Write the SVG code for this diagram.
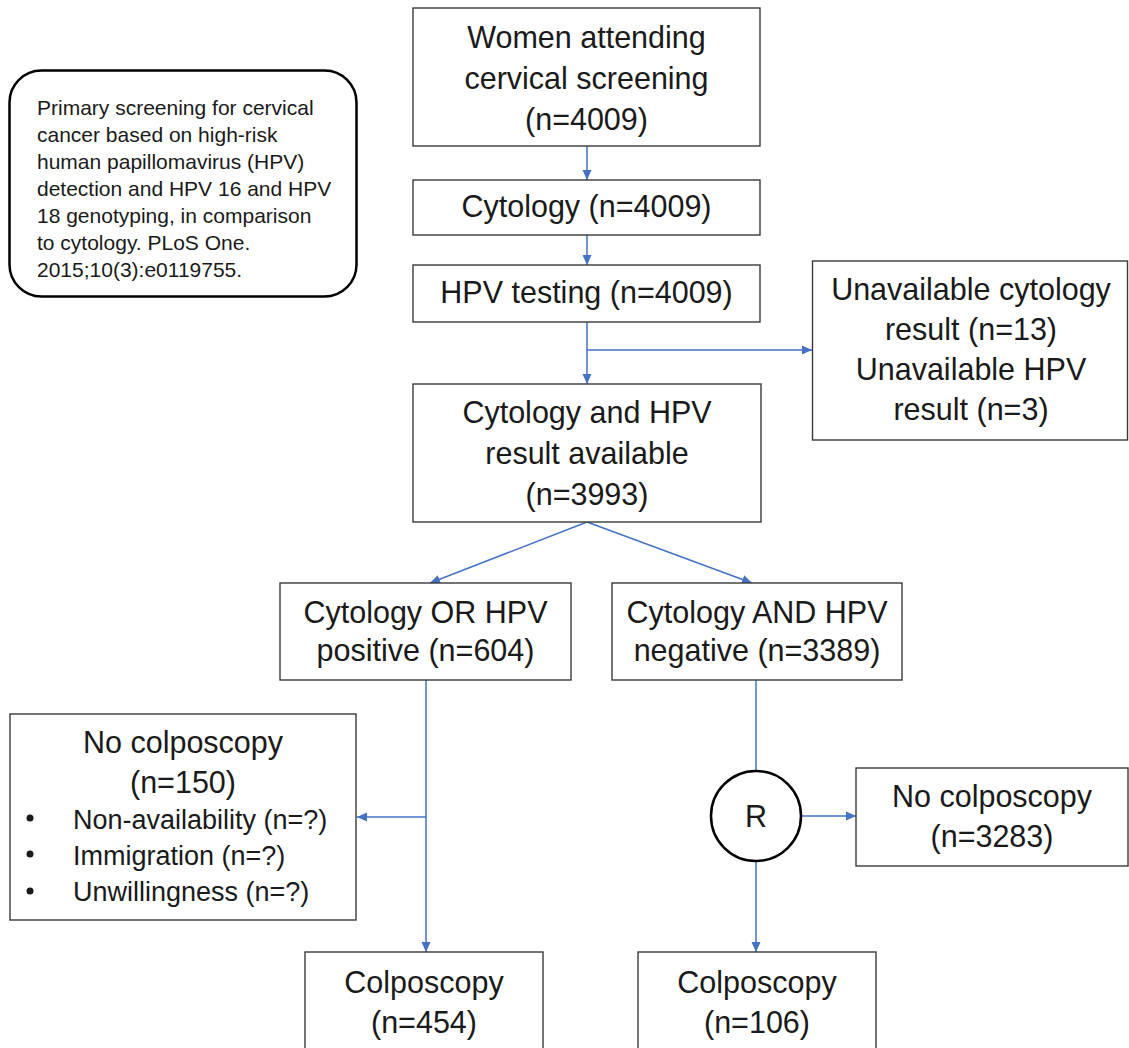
<svg xmlns="http://www.w3.org/2000/svg" width="1129" height="1048" viewBox="0 0 1129 1048">
<defs>
<marker id="ah" markerWidth="10" markerHeight="10" refX="10" refY="5" orient="auto" markerUnits="userSpaceOnUse"><path d="M0,0.5 L10,5 L0,9.5 z" fill="#4472C4"/></marker>
<style>
.box{fill:#fff;stroke:#3a3a3a;stroke-width:1.4}
.t{font-family:"Liberation Sans",Arial,sans-serif;font-size:30.5px;fill:#1a1a1a;text-anchor:middle}
.b{font-family:"Liberation Sans",Arial,sans-serif;font-size:27px;fill:#1a1a1a}
.c{font-family:"Liberation Sans",Arial,sans-serif;font-size:21px;fill:#1a1a1a}
.ln{fill:none;stroke:#4472C4;stroke-width:1.5}
.ar{fill:none;stroke:#4472C4;stroke-width:1.5;marker-end:url(#ah)}
</style>
</defs>
<rect width="1129" height="1048" fill="#fff"/>
<g id="citation">
<rect x="9.5" y="70.5" width="347" height="226" rx="32" fill="#fff" stroke="#000" stroke-width="2.5"/>
<text class="c" x="37" y="115">Primary screening for cervical</text>
<text class="c" x="37" y="142">cancer based on high-risk</text>
<text class="c" x="37" y="169">human papillomavirus (HPV)</text>
<text class="c" x="37" y="196">detection and HPV 16 and HPV</text>
<text class="c" x="37" y="223">18 genotyping, in comparison</text>
<text class="c" x="37" y="250">to cytology. PLoS One.</text>
<text class="c" x="37" y="277">2015;10(3):e0119755.</text>
</g>
<g id="connectors">
<line class="ar" x1="587" y1="146" x2="587" y2="180"/>
<line class="ar" x1="587" y1="235" x2="587" y2="265"/>
<line class="ar" x1="587" y1="322" x2="587" y2="384"/>
<line class="ar" x1="587" y1="350" x2="812" y2="350"/>
<line class="ar" x1="587" y1="522" x2="430" y2="583"/>
<line class="ar" x1="587" y1="522" x2="752" y2="583"/>
<line class="ar" x1="426" y1="680" x2="426" y2="952"/>
<line class="ar" x1="426" y1="817" x2="357" y2="817"/>
<line class="ln" x1="756" y1="680" x2="756" y2="770"/>
<line class="ar" x1="756" y1="862" x2="756" y2="952"/>
<line class="ar" x1="801" y1="816" x2="856" y2="816"/>
</g>
<g id="women">
<rect class="box" x="413" y="8" width="347" height="138"/>
<text class="t" x="586.5" y="48">Women attending</text>
<text class="t" x="586.5" y="89">cervical screening</text>
<text class="t" x="586.5" y="130">(n=4009)</text>
</g>
<g id="cytology">
<rect class="box" x="413" y="180" width="347" height="55"/>
<text class="t" x="586.5" y="217">Cytology (n=4009)</text>
</g>
<g id="hpv">
<rect class="box" x="413" y="265" width="347" height="57"/>
<text class="t" x="586.5" y="303">HPV testing (n=4009)</text>
</g>
<g id="unavailable">
<rect class="box" x="812.5" y="261" width="315" height="179"/>
<text class="t" x="971" y="300">Unavailable cytology</text>
<text class="t" x="971" y="340">result (n=13)</text>
<text class="t" x="971" y="380">Unavailable HPV</text>
<text class="t" x="971" y="420">result (n=3)</text>
</g>
<g id="available">
<rect class="box" x="413" y="384" width="348" height="138"/>
<text class="t" x="587" y="423">Cytology and HPV</text>
<text class="t" x="587" y="464">result available</text>
<text class="t" x="587" y="505">(n=3993)</text>
</g>
<g id="positive">
<rect class="box" x="280" y="583" width="291" height="97"/>
<text class="t" x="425.5" y="623">Cytology OR HPV</text>
<text class="t" x="425.5" y="661">positive (n=604)</text>
</g>
<g id="negative">
<rect class="box" x="612" y="583" width="290" height="97"/>
<text class="t" x="757" y="623">Cytology AND HPV</text>
<text class="t" x="757" y="661">negative (n=3389)</text>
</g>
<g id="nocolpo-left">
<rect class="box" x="10" y="714" width="346" height="206"/>
<text class="t" x="183" y="753">No colposcopy</text>
<text class="t" x="183" y="793">(n=150)</text>
<circle cx="30" cy="818" r="3.5" fill="#1a1a1a"/>
<circle cx="30" cy="854" r="3.5" fill="#1a1a1a"/>
<circle cx="30" cy="891" r="3.5" fill="#1a1a1a"/>
<text class="b" x="73" y="829">Non-availability (n=?)</text>
<text class="b" x="73" y="865">Immigration (n=?)</text>
<text class="b" x="73" y="901">Unwillingness (n=?)</text>
</g>
<g id="random">
<circle cx="756" cy="816" r="45" fill="#fff" stroke="#000" stroke-width="2.5"/>
<text class="t" x="756" y="827">R</text>
</g>
<g id="nocolpo-right">
<rect class="box" x="856" y="768" width="272" height="98"/>
<text class="t" x="992" y="807">No colposcopy</text>
<text class="t" x="992" y="847">(n=3283)</text>
</g>
<g id="colpo-left">
<rect class="box" x="305" y="952" width="238" height="110"/>
<text class="t" x="424" y="993">Colposcopy</text>
<text class="t" x="424" y="1033">(n=454)</text>
</g>
<g id="colpo-right">
<rect class="box" x="638" y="952" width="238" height="110"/>
<text class="t" x="757" y="993">Colposcopy</text>
<text class="t" x="757" y="1033">(n=106)</text>
</g>
</svg>
